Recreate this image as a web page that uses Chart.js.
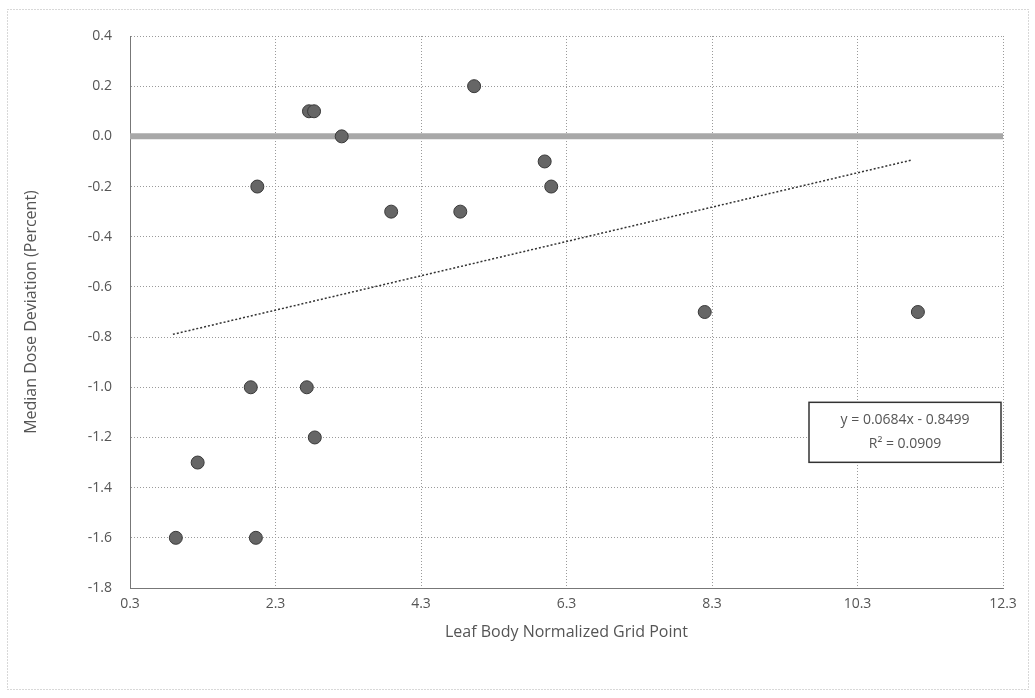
<!DOCTYPE html>
<html>
<head>
<meta charset="utf-8">
<script src="https://cdn.jsdelivr.net/npm/chart.js@4.4.0/dist/chart.umd.min.js"></script>
<style>
    body { margin: 0; background: #fff; }
    #wrap { width: 1035px; height: 698px; position: relative; }
</style>
</head>
<body>
<div id="wrap"><canvas id="doseChart" width="1035" height="698"></canvas></div>
<script>
// values
var grid_x = [0.93, 1.23, 2.03, 1.96, 2.05, 2.76, 2.83, 3.21, 2.73, 2.84, 3.89, 4.84, 5.03, 6.0, 6.09, 8.2, 11.13];
var dev_y = [-1.6, -1.3, -1.6, -1.0, -0.2, 0.1, 0.1, 0.0, -1.0, -1.2, -0.3, -0.3, 0.2, -0.1, -0.2, -0.7, -0.7];
var trend_x = [0.89, 11.05];
var trend_y = [-0.789, -0.094];
var x_ticks = [0.3, 2.3, 4.3, 6.3, 8.3, 10.3, 12.3];
var y_ticks = [0.4, 0.2, 0.0, -0.2, -0.4, -0.6, -0.8, -1.0, -1.2, -1.4, -1.6, -1.8];
var fit_text = ['y = 0.0684x - 0.8499', 'R\u00b2 = 0.0909'];

var points = grid_x.map(function (x, i) { return {x: x, y: dev_y[i]}; });
var trend = trend_x.map(function (x, i) { return {x: x, y: trend_y[i]}; });

var font_family = "'Open Sans', 'DejaVu Sans', sans-serif";

var extras = {
    id: 'extras',
    beforeDraw: function (chart) {
        var ctx = chart.ctx;
        ctx.save();
        ctx.fillStyle = '#fff';
        ctx.fillRect(0, 0, chart.width, chart.height);
        ctx.strokeStyle = '#b0b0b0';
        ctx.lineWidth = 1;
        ctx.setLineDash([1, 2]);
        ctx.strokeRect(7.5, 9.5, 1021, 680);
        ctx.restore();
    },
    beforeDatasetsDraw: function (chart) {
        var ctx = chart.ctx, area = chart.chartArea;
        var y0 = chart.scales.y.getPixelForValue(0);
        ctx.save();
        ctx.strokeStyle = '#a8a8a8';
        ctx.lineWidth = 6;
        ctx.beginPath();
        ctx.moveTo(area.left, y0);
        ctx.lineTo(area.right, y0);
        ctx.stroke();
        ctx.restore();
    },
    afterDatasetsDraw: function (chart) {
        var ctx = chart.ctx, area = chart.chartArea;
        var top = chart.scales.y.getPixelForValue(-1.06);
        var w = 192, h = 60;
        var left = area.right - w - 2;
        ctx.save();
        ctx.fillStyle = '#fff';
        ctx.fillRect(left, top, w, h);
        ctx.strokeStyle = '#333';
        ctx.lineWidth = 1.5;
        ctx.strokeRect(left, top, w, h);
        ctx.fillStyle = '#555';
        ctx.font = '14px ' + font_family;
        ctx.textAlign = 'center';
        ctx.textBaseline = 'middle';
        ctx.fillText(fit_text[0], left + w / 2, top + 18);
        ctx.fillText(fit_text[1], left + w / 2, top + 42);
        ctx.restore();
    }
};

new Chart('doseChart', {
    type: 'scatter',
    data: {
        datasets: [{
            label: 'Deviation',
            data: points,
            pointRadius: 6.5,
            pointHoverRadius: 6.5,
            backgroundColor: '#666',
            borderColor: '#3a3a3a',
            borderWidth: 1
        }, {
            type: 'line',
            label: 'Linear',
            data: trend,
            borderColor: '#333',
            borderWidth: 1.5,
            borderDash: [2, 2],
            pointRadius: 0,
            fill: false
        }]
    },
    options: {
        responsive: false,
        animation: false,
        layout: {
            padding: {left: 18, right: 32, top: 36, bottom: 52}
        },
        plugins: {
            legend: {display: false},
            tooltip: {enabled: false}
        },
        scales: {
            x: {
                type: 'linear',
                min: 0.3,
                max: 12.3,
                afterBuildTicks: function (scale) {
                    scale.ticks = x_ticks.map(function (v) { return {value: v}; });
                },
                afterFit: function (scale) { scale.height = 58; },
                ticks: {
                    color: '#555',
                    font: {family: font_family, size: 14},
                    padding: 8,
                    maxRotation: 0,
                    callback: function (v) { return v.toFixed(1); }
                },
                grid: {color: '#9a9a9a', lineWidth: 1, drawTicks: false},
                border: {color: '#777', dash: [1, 2]},
                title: {
                    display: true,
                    text: 'Leaf Body Normalized Grid Point',
                    color: '#555',
                    font: {family: font_family, size: 16},
                    padding: {top: 4, bottom: 4}
                }
            },
            y: {
                type: 'linear',
                min: -1.8,
                max: 0.4,
                afterBuildTicks: function (scale) {
                    scale.ticks = y_ticks.map(function (v) { return {value: v}; });
                },
                afterFit: function (scale) { scale.width = 112; },
                ticks: {
                    color: '#555',
                    font: {family: font_family, size: 14},
                    padding: 18,
                    callback: function (v) { return v.toFixed(1); }
                },
                grid: {color: '#9a9a9a', lineWidth: 1, drawTicks: false},
                border: {color: '#777', dash: [1, 2]},
                title: {
                    display: true,
                    text: 'Median Dose Deviation (Percent)',
                    color: '#555',
                    font: {family: font_family, size: 16},
                    padding: {bottom: 14}
                }
            }
        }
    },
    plugins: [extras]
});
</script>
</body>
</html>
